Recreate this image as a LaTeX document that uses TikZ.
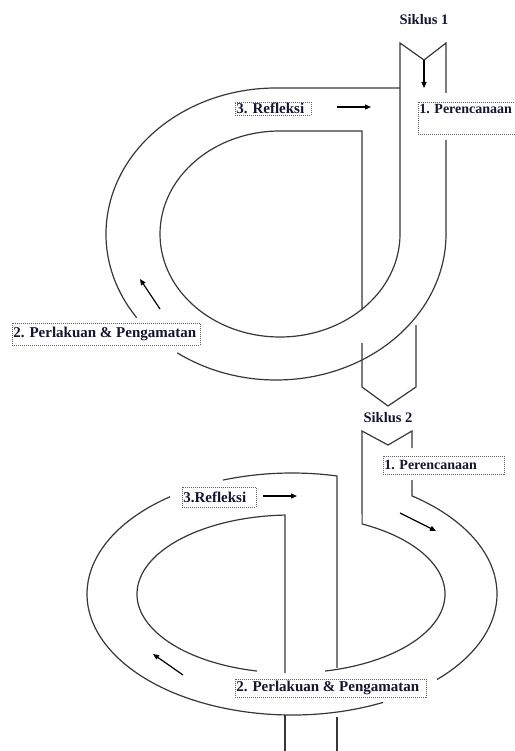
\documentclass[tikz,border=0pt]{standalone}
\usepackage{fontspec}
\setmainfont{Liberation Serif}
\usetikzlibrary{arrows.meta,calc}
\definecolor{ln}{RGB}{55,55,55}
\definecolor{tx}{RGB}{20,22,48}
\tikzset{
  road/.style={draw=ln, line width=1.2pt, line join=miter},
  arr/.style={draw=black, line width=1.2pt, -{Triangle[length=6pt,width=5pt]}},
  lbl/.style={draw=ln!80, line width=0.6pt, dash pattern=on 1pt off 1pt, fill=white,
    text=tx, font=\bfseries\fontsize{15}{17}\selectfont, inner sep=1pt, align=flush left},
  lbls/.style={lbl, font=\bfseries\fontsize{14}{16}\selectfont},
  ttl/.style={text=tx, font=\bfseries\fontsize{14.5}{16}\selectfont, inner sep=0pt}
}
\begin{document}
\begin{tikzpicture}[x=1pt,y=1pt]
\useasboundingbox (0,0) rectangle (514,-751);
% ---------- Siklus 1 ----------
\coordinate (C1o) at (276,-234);
\coordinate (C1i) at (280,-234);
% outer ring
\draw[road] (446,-140) -- (446,-234) arc[start angle=0,end angle=-125.5,x radius=170,y radius=146];
\draw[road] ($(C1o)+(-145:170 and 146)$) arc[start angle=-145,end angle=-270,x radius=170,y radius=146] -- (400,-88);
% top channel and inner ring
\draw[road] (446,-93) -- (446,-43) -- (424,-60) -- (400,-43) -- (400,-234)
  arc[start angle=0,end angle=-270,x radius=120,y radius=103] -- (362,-131) -- (362,-310);
% bottom channel
\draw[road] (362,-343) -- (362,-387) -- (388,-406) -- (416,-387) -- (416,-325);
% arrows
\coordinate (a1s) at (424,-60); \coordinate (a1e) at (424,-88);
\draw[arr] (a1s) -- (a1e);
\coordinate (a2s) at (337,-107); \coordinate (a2e) at (371,-107);
\draw[arr] (a2s) -- (a2e);
\coordinate (a3s) at (160,-309); \coordinate (a3e) at (140,-279);
\draw[arr] (a3s) -- (a3e);
% labels
\node[ttl] (s1) at (424,-20) {Siklus 1};
\node[lbl, anchor=west, text width=74pt, minimum height=13pt] (r1) at (235,-108.5) {3. Refleksi};
\node[lbls, anchor=north west, text width=100pt, text height=10pt, text depth=20pt] (p1) at (418,-102) {1. Perencanaan};
\node[lbl, anchor=west, text width=186pt, minimum height=22pt] (q1) at (12,-334) {2. Perlakuan \& Pengamatan};
% ---------- Siklus 2 ----------
\coordinate (C2o) at (292,-594);
\coordinate (C2i) at (291,-594);
% outer ring
\draw[road] (412,-480) -- ($(C2o)+(54.2:205 and 121)$) arc[start angle=54.2,end angle=-45,x radius=205,y radius=121];
\draw[road] ($(C2o)+(-63.6:205 and 121)$) arc[start angle=-63.6,end angle=-233.5,x radius=205,y radius=121];
\draw[road] ($(C2o)+(109.7:205 and 121)$) arc[start angle=109.7,end angle=77.3,x radius=205,y radius=121] -- ++(0,-192);
% top channel and inner ring
\draw[road] (412,-448) -- (412,-431) -- (388,-445) -- (362,-431) -- ($(C2i)+(62.5:154 and 79)$)
  arc[start angle=62.5,end angle=-77.2,x radius=154,y radius=79];
\draw[road] ($(C2i)+(-102.8:154 and 79)$) arc[start angle=-102.8,end angle=-267.8,x radius=154,y radius=79] -- ++(0,-158);
% exits
\draw[road] (285,-715) -- (285,-760);
\draw[road] (337,-717) -- (337,-760);
% arrows
\coordinate (b1s) at (263,-496); \coordinate (b1e) at (297,-496);
\draw[arr] (b1s) -- (b1e);
\coordinate (b2s) at (400,-513); \coordinate (b2e) at (436,-531);
\draw[arr] (b2s) -- (b2e);
\coordinate (b3s) at (183,-675); \coordinate (b3e) at (153,-654);
\draw[arr] (b3s) -- (b3e);
% labels
\node[ttl] (s2) at (388,-418) {Siklus 2};
\node[lbls, anchor=west, text width=119pt, minimum height=18pt] (p2) at (383,-465) {1. Perencanaan};
\node[lbl, anchor=west, text width=72pt, minimum height=20pt] (r2) at (182,-497) {3.Refleksi};
\node[lbl, anchor=west, text width=189pt, minimum height=18pt] (q2) at (235,-688) {2. Perlakuan \& Pengamatan};
\end{tikzpicture}
\end{document}
